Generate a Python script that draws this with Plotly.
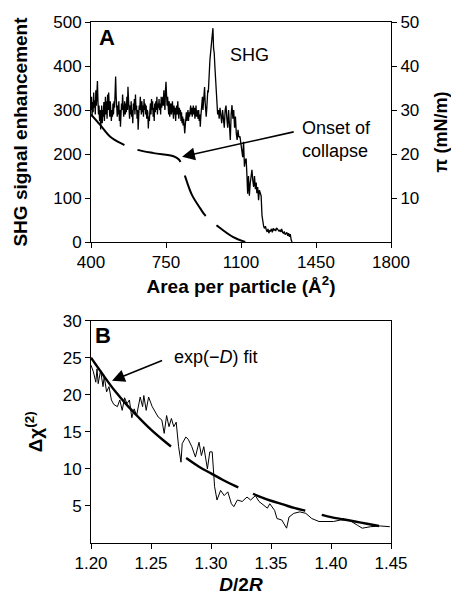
import plotly.graph_objects as go

# ---------------- Panel A data ----------------
# dense part of the SHG trace: sampled every 2.5 A^2 from 400 to 947.5
area_dense = [400 + 2.5 * i for i in range(220)]
shg_dense = [
    300, 330, 285, 318, 295, 340, 305, 322, 290, 345, 310, 335, 366, 320, 290, 310, 275, 300, 256, 285,
    310, 270, 300, 285, 318, 275, 305, 330, 290, 320, 280, 335, 300, 340, 310, 285, 320, 295, 275, 300,
    285, 315, 290, 320, 305, 340, 376, 330, 300, 285, 310, 290, 320, 275, 300, 262, 290, 315, 300, 335,
    310, 285, 300, 320, 290, 315, 295, 330, 300, 353, 325, 300, 280, 310, 290, 320, 285, 300, 270, 315,
    300, 325, 290, 335, 300, 310, 280, 300, 255, 285, 310, 300, 330, 310, 290, 320, 295, 310, 285, 325,
    300, 315, 290, 310, 280, 300, 295, 258, 285, 275, 300, 315, 290, 325, 300, 320, 285, 305, 275, 315,
    295, 320, 300, 330, 290, 315, 305, 325, 300, 315, 290, 330, 305, 320, 330, 310, 345, 320, 300, 345,
    364, 335, 310, 330, 300, 290, 320, 285, 305, 315, 290, 305, 320, 295, 280, 310, 290, 305, 275, 300,
    310, 290, 320, 295, 280, 305, 290, 300, 275, 295, 270, 285, 265, 280, 250, 247, 265, 285, 295, 275,
    290, 300, 275, 295, 285, 300, 310, 290, 305, 285, 300, 310, 290, 305, 280, 295, 310, 285, 300, 290,
    280, 300, 275, 290, 262, 285, 300, 320, 330, 300, 315, 335, 352, 320, 295, 285, 300, 330, 345, 340,
]
area_tail = [950, 955, 960, 965, 969, 972, 975, 978, 981, 984, 988,
             991, 995, 998, 1002, 1006, 1010, 1014, 1018, 1022, 1026, 1030, 1034, 1038, 1042, 1046, 1050, 1054, 1058, 1062, 1066,
             1070, 1074, 1078, 1082, 1086, 1090, 1095, 1100, 1104, 1108, 1112, 1116, 1120, 1124, 1128, 1131, 1135, 1139, 1143, 1147,
             1151, 1155, 1159, 1163, 1167, 1171, 1174, 1178, 1182, 1186, 1190, 1194, 1198, 1202, 1206, 1210, 1214, 1218, 1222, 1226,
             1230, 1234, 1238, 1242, 1246, 1250, 1254, 1258, 1262, 1266, 1270, 1274, 1278, 1282, 1286, 1290, 1294, 1298, 1302, 1306,
             1310, 1314, 1318, 1322, 1326, 1330, 1334, 1338]
shg_tail = [370, 414, 440, 460, 486, 440, 430, 400, 376, 338, 292,
            290, 300, 280, 305, 290, 270, 300, 285, 260, 300, 310, 280, 260, 300, 255, 232, 290, 311, 280, 300,
            260, 285, 247, 232, 255, 238, 240, 225, 215, 193, 228, 171, 186, 190, 148, 110, 150, 105, 133, 160,
            164, 140, 125, 150, 120, 135, 111, 125, 95, 118, 110, 105, 60, 39, 35, 31, 36, 28, 23, 30,
            20, 26, 25, 30, 22, 31, 27, 29, 25, 32, 28, 27, 24, 28, 23, 30, 22, 20, 24, 17,
            19, 22, 14, 20, 12, 18, 5, 0]
area = area_dense + area_tail
shg = shg_dense + shg_tail

iso_area = [400, 443, 490, 545, 605, 692, 785, 809, 824, 840, 871, 909, 932, 994, 1064, 1120]
iso_pressure = [29.0, 26.6, 23.9, 22.3, 21.1, 20.2, 19.5, 18.8, 17.5, 14.8, 10.7, 7.7, 6.1, 3.5, 1.1, 0.0]

area_ticks = [400, 750, 1100, 1450, 1800]
shg_ticks = [0, 100, 200, 300, 400, 500]
pi_ticks = [10, 20, 30, 40, 50]

# ---------------- Panel B data ----------------
d2r = [1.200, 1.202, 1.204, 1.205, 1.206, 1.208, 1.210, 1.211, 1.213, 1.215, 1.217, 1.219, 1.222, 1.224, 1.226,
       1.228, 1.230, 1.232, 1.234, 1.236, 1.238, 1.241, 1.243, 1.244, 1.246, 1.248, 1.251, 1.254, 1.256, 1.259,
       1.261, 1.263, 1.265, 1.267, 1.269, 1.271, 1.273, 1.275, 1.276, 1.279, 1.281, 1.284, 1.287, 1.290, 1.292,
       1.294, 1.297, 1.299, 1.301, 1.303, 1.305, 1.308, 1.311, 1.314, 1.317, 1.319, 1.322, 1.326, 1.330, 1.333,
       1.337, 1.340, 1.344, 1.347, 1.349, 1.353, 1.355, 1.359, 1.363, 1.365, 1.369, 1.374, 1.379, 1.384, 1.390,
       1.395, 1.402, 1.408, 1.415, 1.422, 1.426, 1.433, 1.441, 1.449]
dchi = [24.0, 23.1, 21.7, 23.5, 21.5, 23.3, 21.1, 22.5, 20.4, 21.1, 19.3, 18.7, 18.4, 19.3, 17.9,
        19.6, 18.8, 19.3, 16.9, 18.1, 17.2, 19.7, 18.4, 19.9, 17.9, 19.7, 18.4, 17.5, 17.0, 16.6,
        14.8, 17.2, 15.7, 16.8, 15.7, 16.3, 13.0, 10.9, 13.4, 14.3, 14.0, 13.0, 11.6, 13.6, 11.8,
        13.0, 10.0, 12.3, 12.3, 7.6, 5.8, 7.1, 6.4, 6.9, 5.3, 4.9, 5.8, 5.6, 6.2, 5.8,
        6.4, 5.6, 5.1, 4.7, 5.3, 4.4, 3.3, 3.1, 2.0, 3.5, 4.0, 4.2, 4.0, 3.3, 2.9,
        2.9, 2.9, 3.1, 3.1, 2.4, 2.0, 2.2, 2.3, 2.2]

fit_x = [1.20, 1.21, 1.22, 1.23, 1.24, 1.25, 1.26, 1.27, 1.28, 1.29, 1.30, 1.31, 1.32, 1.33,
         1.34, 1.35, 1.36, 1.37, 1.38, 1.39, 1.40, 1.41, 1.42, 1.43, 1.44]
fit_y = [25.0, 22.7, 20.5, 18.6, 16.9, 15.3, 13.9, 12.6, 11.4, 10.3, 9.4, 8.5, 7.7, 7.0,
         6.3, 5.7, 5.2, 4.7, 4.3, 3.9, 3.5, 3.2, 2.9, 2.6, 2.3]

d2r_ticks = [1.20, 1.25, 1.30, 1.35, 1.40, 1.45]
dchi_ticks = [5, 10, 15, 20, 25, 30]

FONT = "Liberation Sans, Arial, Helvetica, sans-serif"
TICKF = dict(family=FONT, size=17, color="black")
TITLEF = dict(family=FONT, size=19, color="black")

fig = go.Figure()

fig.add_trace(go.Scatter(x=area, y=shg, mode="lines", line=dict(color="black", width=1.3),
                         xaxis="x", yaxis="y", showlegend=False))
fig.add_trace(go.Scatter(x=iso_area, y=iso_pressure, mode="lines", line_shape="spline",
                         line=dict(color="black", width=2, dash="46px,14px"),
                         xaxis="x", yaxis="y3", showlegend=False))
fig.add_trace(go.Scatter(x=d2r, y=dchi, mode="lines", line=dict(color="black", width=1),
                         xaxis="x2", yaxis="y2", showlegend=False))
fig.add_trace(go.Scatter(x=fit_x, y=fit_y, mode="lines", line_shape="spline",
                         line=dict(color="black", width=2.4, dash="120px,19px,60px,16px,55px,17px,60px,20px"),
                         xaxis="x2", yaxis="y2", showlegend=False))

axis_common = dict(showline=True, linecolor="black", linewidth=1, ticks="outside", ticklen=5,
                   tickcolor="black", tickwidth=1, showgrid=False, zeroline=False, tickfont=TICKF,
                   automargin=False)

top_dom = [0.5777, 1.0]
bot_dom = [0.0, 0.4267]

fig.update_layout(
    width=451, height=595,
    margin=dict(l=91, r=60, t=22, b=52),
    paper_bgcolor="white", plot_bgcolor="white",
    font=dict(family=FONT, color="black"),
    xaxis=dict(axis_common, domain=[0, 1], anchor="y", range=[400, 1800], tickvals=area_ticks,
               mirror=True,
               title=dict(text="<b>Area per particle (Å<sup>2</sup>)</b>", font=TITLEF, standoff=8)),
    yaxis=dict(axis_common, domain=top_dom, anchor="x", range=[0, 500], tickvals=shg_ticks,
               mirror=True,
               title=dict(text="<b>SHG signal enhancement</b>", font=TITLEF, standoff=20)),
    yaxis3=dict(axis_common, overlaying="y", side="right", anchor="x", range=[0, 50], tickvals=pi_ticks,
                title=dict(text="<b>π (mN/m)</b>", font=dict(family=FONT, size=18, color="black"),
                           standoff=16)),
    xaxis2=dict(axis_common, domain=[0, 1], anchor="y2", range=[1.2, 1.45], tickvals=d2r_ticks,
                tickformat=".2f", mirror=True,
                title=dict(text="<b><i>D</i>/2<i>R</i></b>", font=TITLEF, standoff=15)),
    yaxis2=dict(axis_common, domain=bot_dom, anchor="x2", range=[0, 30], tickvals=dchi_ticks,
                mirror=True,
                title=dict(text="<b>Δχ<sup>(2)</sup></b>", font=TITLEF, standoff=15)),
)

ann = []
ann.append(dict(x=474, y=465, xref="x", yref="y", text="<b>A</b>", showarrow=False,
                font=dict(family=FONT, size=22, color="black")))
ann.append(dict(x=1139, y=424, xref="x", yref="y", text="SHG", showarrow=False,
                font=dict(family=FONT, size=18, color="black")))
ann.append(dict(x=1377, y=232, xref="x", yref="y", text="Onset of<br>collapse", showarrow=False,
                xanchor="left", align="left", font=dict(family=FONT, size=18, color="black")))
ann.append(dict(x=825, y=194, xref="x", yref="y", ax=1353, ay=251, axref="x", ayref="y",
                text="", showarrow=True, arrowhead=2, arrowsize=1.6, arrowwidth=1.6, arrowcolor="black"))
ann.append(dict(x=1.2103, y=28.0, xref="x2", yref="y2", text="<b>B</b>", showarrow=False,
                font=dict(family=FONT, size=22, color="black")))
ann.append(dict(x=1.2678, y=25.1, xref="x2", yref="y2", text="exp(−<i>D</i>) fit", showarrow=False,
                xanchor="left", font=dict(family=FONT, size=18, color="black")))
ann.append(dict(x=1.2175, y=21.9, xref="x2", yref="y2", ax=1.2605, ay=24.7, axref="x2", ayref="y2",
                text="", showarrow=True, arrowhead=2, arrowsize=1.6, arrowwidth=1.6, arrowcolor="black"))
fig.update_layout(annotations=ann)

fig.write_html("out.html", config={"displayModeBar": False},
               post_script="document.body.style.margin='0';document.body.style.padding='0';")
